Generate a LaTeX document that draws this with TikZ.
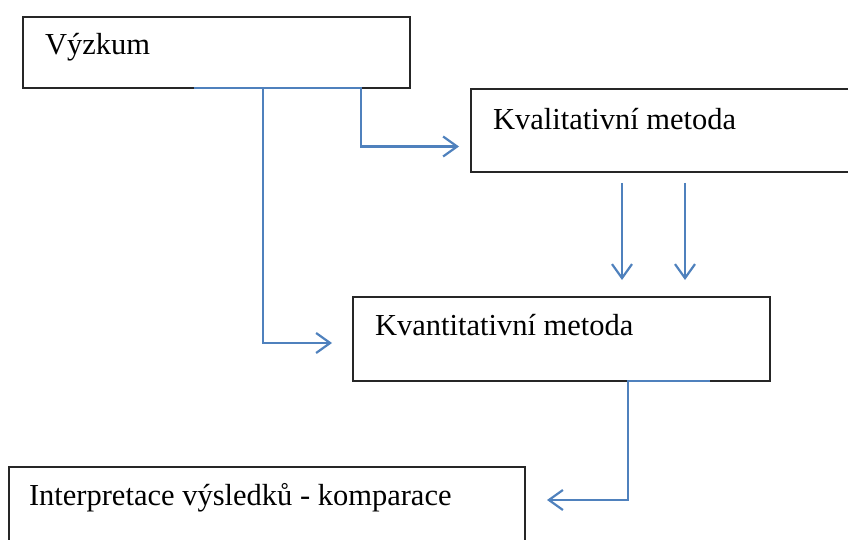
\documentclass[tikz,border=0pt]{standalone}
\usepackage{fontspec}
\setmainfont{Liberation Serif}
\usetikzlibrary{arrows.meta}
\definecolor{linkblue}{RGB}{79,129,189}

\begin{document}
\begin{tikzpicture}[x=1pt, y=-1pt, every node/.style = {inner sep=0pt, outer sep=0pt},
	box/.style = {draw=black!85, line width=1.6pt, anchor=north west},
	txt/.style = {anchor=base west, font=\fontsize{30.5}{36}\selectfont},
	link/.style = {draw=linkblue, line width=2.2pt},
	arr/.style = {link, -{Straight Barb[length=14pt, width=20pt, line width=2.2pt]}}]

	\useasboundingbox (0,0) rectangle (848,540);
	\clip (0,0) rectangle (848,540);

	\node[box, minimum width=387pt, minimum height=71pt] (vyzkum) at (23,17) {};
	\node[box, minimum width=400pt, minimum height=83pt] (kval) at (471,89) {};
	\node[box, minimum width=417pt, minimum height=84pt] (kvant) at (353,297) {};
	\node[box, minimum width=516pt, minimum height=100pt] (interp) at (9,467) {};

	\node[txt] (vyzkumT) at (45,55) {Výzkum};
	\node[txt] (kvalT) at (493,130) {Kvalitativní metoda};
	\node[txt] (kvantT) at (375,335) {Kvantitativní metoda};
	\node[txt] (interpT) at (29,505) {Interpretace výsledků - komparace};

	\draw[link] ([xshift=171pt]vyzkum.south west) -- ([xshift=339pt]vyzkum.south west);
	\draw[arr, shorten >=21pt] ([xshift=240pt]vyzkum.south west) |- ([yshift=-4pt]kvant.west);
	\draw[arr, shorten >=12pt] ([xshift=338pt]vyzkum.south west) |- ([yshift=-16pt]kval.west);

	\draw[arr] ([xshift=151pt, yshift=-11pt]kval.south west) -- ([xshift=269pt, yshift=17pt]kvant.north west);
	\draw[arr] ([xshift=214pt, yshift=-11pt]kval.south west) -- ([xshift=332pt, yshift=17pt]kvant.north west);

	\draw[link] ([xshift=274pt]kvant.south west) -- ([xshift=357pt]kvant.south west);
	\draw[arr, shorten >=22pt] ([xshift=275pt]kvant.south west) |- ([yshift=17pt]interp.east);
\end{tikzpicture}
\end{document}
